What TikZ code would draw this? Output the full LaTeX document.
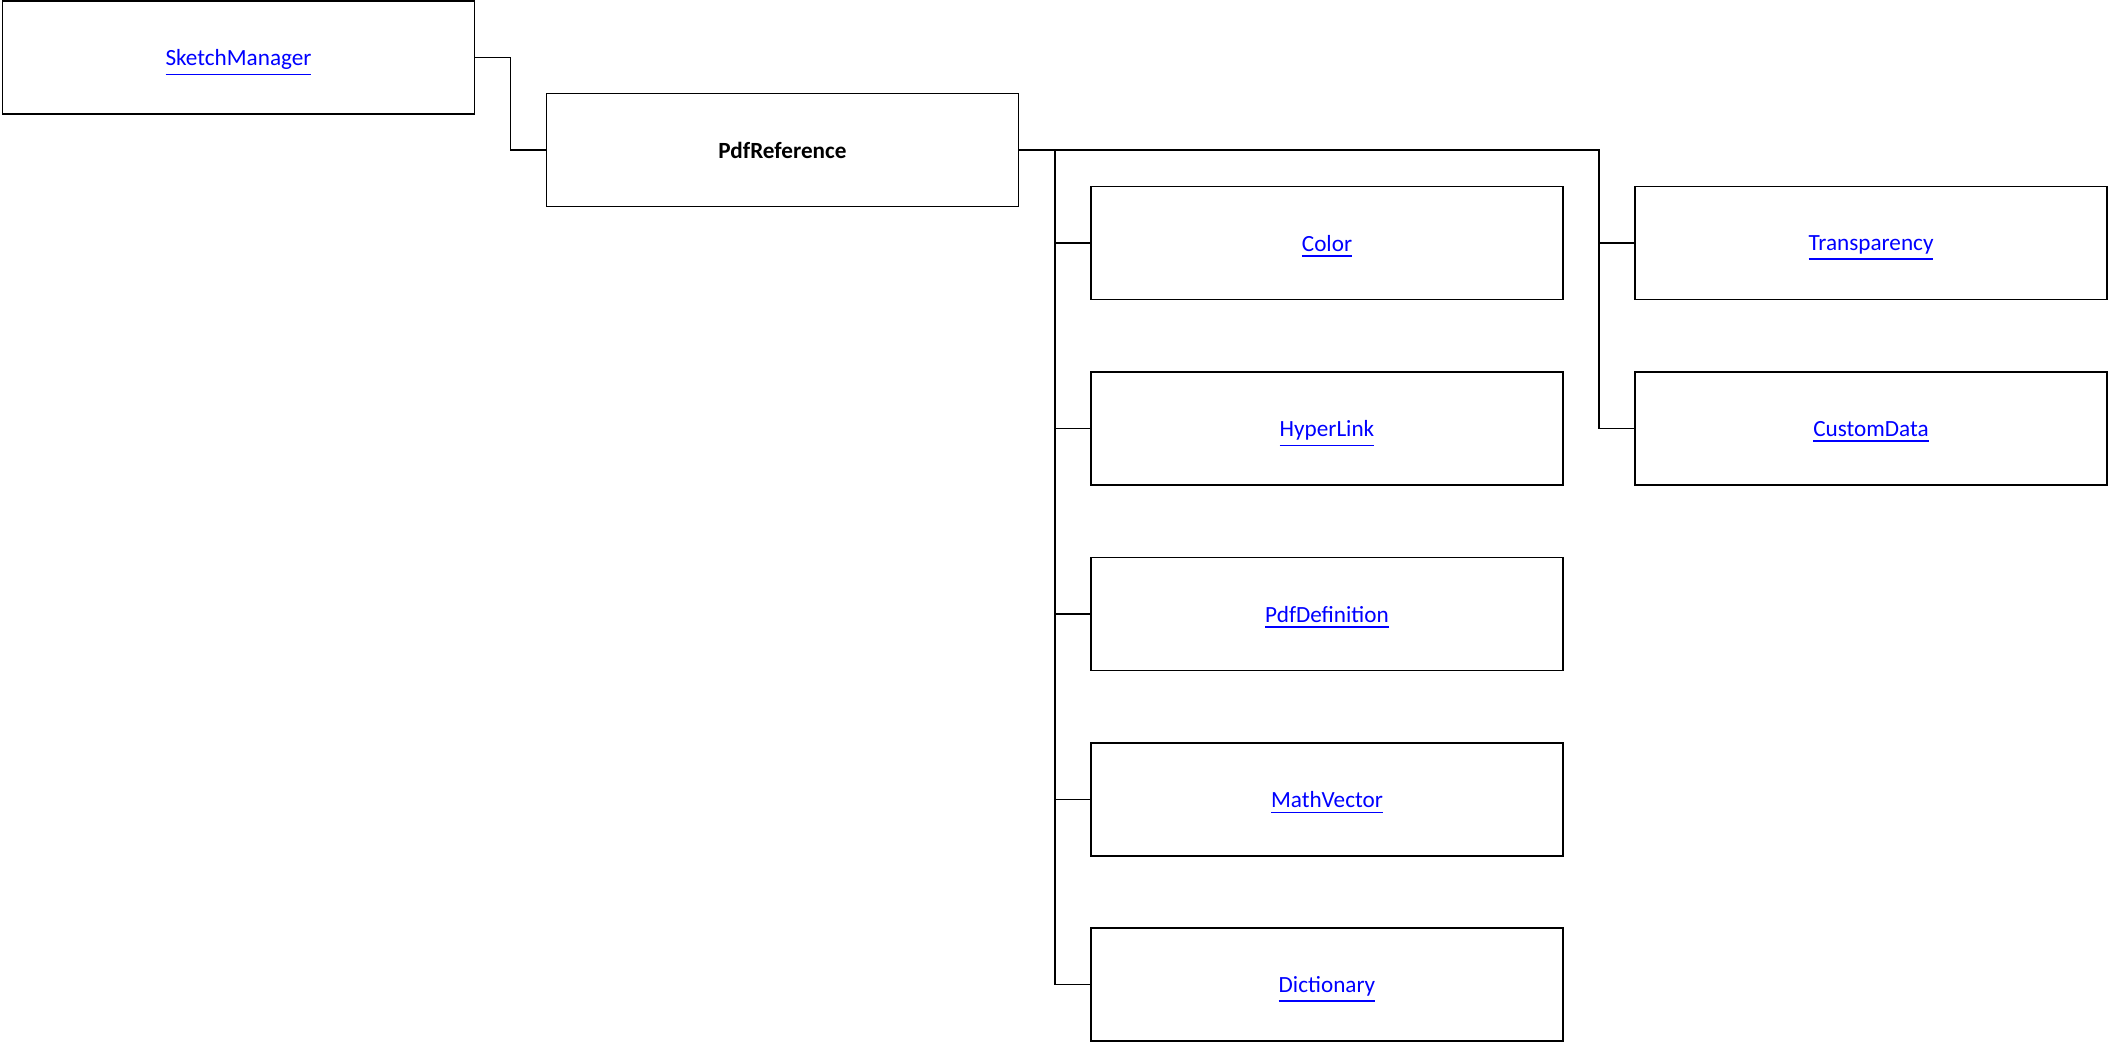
\documentclass[tikz,border=0pt]{standalone}
\usepackage{fontspec}
\setmainfont{Carlito}
\usepackage{tikz}
\usetikzlibrary{positioning, calc}
\usepackage{xcolor}
\definecolor{linkblue}{RGB}{0, 0, 255}

\tikzset{
  classbox/.style={draw, line width=0.55pt, minimum width=4.72cm, minimum height=1.13cm,
    inner sep=0pt, outer sep=0pt, text depth=0pt, font=\fontsize{6.6}{8}\selectfont},
  linkbox/.style={classbox, text=linkblue},
  wire/.style={line width=0.55pt}
}
\newcommand{\lnk}[1]{\underline{#1}}

\begin{document}
\begin{tikzpicture}
        \useasboundingbox (0,0) rectangle (21.09,-10.41);
        % parent and current class
        \node[linkbox] (sketch) at (2.385,-0.575) {\lnk{SketchManager}};
        \node[classbox, font=\fontsize{6.6}{8}\selectfont\bfseries] (pdfref) at (7.825,-1.50) {PdfReference};
        % members, first column
        \node[linkbox] (color) at (13.27,-2.43) {\lnk{Color}};
        \node[linkbox] (hyperlink) at (13.27,-4.285) {\lnk{HyperLink}};
        \node[linkbox] (pdfdef) at (13.27,-6.14) {\lnk{PdfDefinition}};
        \node[linkbox] (mathvec) at (13.27,-7.995) {\lnk{MathVector}};
        \node[linkbox] (dict) at (13.27,-9.845) {\lnk{Dictionary}};
        % members, second column
        \node[linkbox] (transp) at (18.71,-2.43) {\lnk{Transparency}};
        \node[linkbox] (custom) at (18.71,-4.285) {\lnk{CustomData}};
        % trunks
        \coordinate (trunkA) at (10.55,-1.50);
        \coordinate (trunkB) at (15.99,-1.50);
        % connectors
        \draw[wire] (sketch.east) -- ++(0.36,0) |- (pdfref.west);
        \draw[wire] (pdfref.east) -- (trunkB) |- (custom.west);
        \draw[wire] (trunkB |- transp.west) -- (transp.west);
        \draw[wire] (trunkA) |- (dict.west);
        \draw[wire] (trunkA |- color.west) -- (color.west);
        \draw[wire] (trunkA |- hyperlink.west) -- (hyperlink.west);
        \draw[wire] (trunkA |- pdfdef.west) -- (pdfdef.west);
        \draw[wire] (trunkA |- mathvec.west) -- (mathvec.west);
\end{tikzpicture}
\end{document}
